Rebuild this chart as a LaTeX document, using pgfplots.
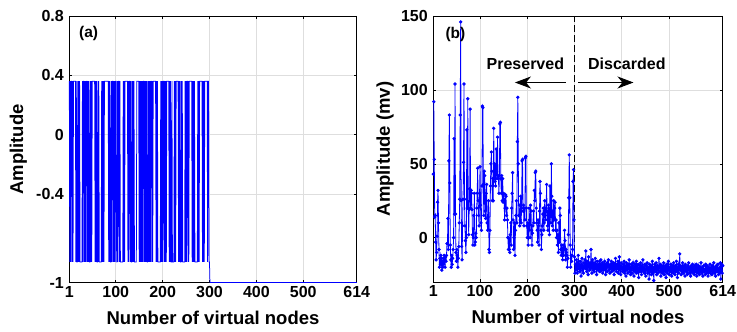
\documentclass[border=0pt]{standalone}
\usepackage{pgfplots}
\usepackage{pgfplotstable}
\pgfplotsset{compat=1.18}
\usepackage{fontspec}
\setmainfont{Liberation Sans}
\usetikzlibrary{arrows.meta}

\pgfplotstableread[row sep=\\]{
0.36\\-0.86\\0.36\\-0.86\\0.36\\0.36\\-0.86\\0.36\\-0.86\\0.36\\
0.36\\0.36\\0.36\\0.36\\-0.86\\0.36\\-0.86\\-0.86\\0.36\\-0.86\\
0.36\\-0.86\\0.36\\-0.86\\-0.86\\-0.86\\-0.86\\-0.86\\0.36\\-0.86\\
0.36\\0.36\\-0.86\\0.36\\-0.86\\0.36\\-0.86\\0.36\\0.36\\-0.86\\
0.36\\-0.86\\0.36\\-0.86\\-0.86\\0.36\\-0.86\\0.36\\-0.86\\0.36\\
0.36\\0.36\\0.36\\0.36\\0.36\\-0.86\\0.36\\-0.86\\0.36\\-0.86\\
-0.86\\0.36\\-0.86\\0.36\\-0.86\\-0.86\\-0.86\\-0.86\\-0.86\\0.36\\
-0.86\\0.36\\-0.86\\0.36\\-0.86\\0.36\\0.36\\0.36\\0.36\\0.36\\
0.36\\0.36\\0.36\\0.36\\-0.86\\0.36\\-0.86\\0.36\\-0.86\\-0.86\\
0.36\\-0.86\\0.36\\0.36\\-0.86\\0.36\\-0.86\\0.36\\-0.86\\0.36\\
0.36\\-0.86\\-0.86\\0.36\\-0.86\\0.36\\0.36\\-0.86\\0.36\\-0.86\\
-0.86\\-0.86\\-0.86\\-0.86\\-0.86\\0.36\\-0.86\\0.36\\-0.86\\0.36\\
0.36\\0.36\\0.36\\0.36\\0.36\\-0.86\\0.36\\-0.86\\0.36\\0.36\\
-0.86\\0.36\\-0.86\\-0.86\\0.36\\-0.86\\0.36\\-0.86\\0.36\\-0.86\\
-0.86\\-0.86\\-0.86\\-0.86\\0.36\\0.36\\0.36\\0.36\\0.36\\-0.86\\
0.36\\-0.86\\0.36\\-0.86\\0.36\\-0.86\\0.36\\-0.86\\0.36\\0.36\\
-0.86\\0.36\\-0.86\\0.36\\-0.86\\0.36\\-0.86\\-0.86\\0.36\\-0.86\\
0.36\\-0.86\\0.36\\-0.86\\0.36\\0.36\\-0.86\\0.36\\-0.86\\0.36\\
0.36\\0.36\\0.36\\0.36\\0.36\\-0.86\\0.36\\-0.86\\0.36\\-0.86\\
-0.86\\-0.86\\-0.86\\-0.86\\-0.86\\0.36\\-0.86\\0.36\\-0.86\\0.36\\
-0.86\\0.36\\0.36\\-0.86\\0.36\\-0.86\\0.36\\-0.86\\0.36\\0.36\\
0.36\\0.36\\0.36\\-0.86\\0.36\\-0.86\\0.36\\-0.86\\-0.86\\0.36\\
-0.86\\-0.86\\-0.86\\-0.86\\0.36\\-0.86\\0.36\\-0.86\\0.36\\0.36\\
0.36\\0.36\\0.36\\-0.86\\0.36\\-0.86\\0.36\\-0.86\\-0.86\\0.36\\
-0.86\\0.36\\-0.86\\-0.86\\-0.86\\-0.86\\-0.86\\0.36\\-0.86\\0.36\\
-0.86\\0.36\\0.36\\-0.86\\0.36\\-0.86\\0.36\\0.36\\0.36\\0.36\\
0.36\\0.36\\-0.86\\0.36\\-0.86\\0.36\\-0.86\\0.36\\-0.86\\-0.86\\
-0.86\\-0.86\\-0.86\\-0.86\\0.36\\-0.86\\0.36\\-0.86\\0.36\\0.36\\
0.36\\0.36\\0.36\\0.36\\-0.86\\0.36\\-0.86\\0.36\\-0.86\\0.36\\
0.36\\0.36\\0.36\\0.36\\0.36\\-0.86\\0.36\\0.36\\-0.86\\-0.86\\
-1\\
}\maskdata

\pgfplotstableread[row sep=\\]{
43\\92\\53\\14\\15\\-3\\-15\\-10\\1\\24\\
32\\10\\-8\\-20\\-14\\-18\\-12\\-14\\-22\\-16\\
-20\\-14\\-18\\-12\\-15\\-20\\-13\\-16\\-12\\-4\\
-4\\13\\-8\\52\\83\\37\\-5\\-15\\-20\\-12\\
-18\\-14\\-8\\0\\67\\16\\104\\16\\-10\\-16\\
-8\\-12\\-20\\-14\\-6\\10\\26\\83\\146\\25\\
-6\\-15\\8\\26\\51\\104\\26\\8\\-2\\-10\\
0\\73\\20\\94\\20\\2\\19\\33\\87\\20\\
32\\30\\19\\2\\-5\\0\\15\\30\\-5\\-3\\
3\\0\\20\\30\\47\\25\\15\\8\\30\\48\\
22\\10\\5\\35\\89\\88\\36\\15\\45\\42\\
18\\13\\30\\36\\10\\5\\14\\25\\-8\\-10\\
5\\35\\50\\58\\45\\25\\40\\25\\74\\40\\
50\\38\\35\\60\\45\\40\\68\\42\\40\\30\\
42\\77\\78\\40\\30\\42\\25\\40\\24\\30\\
26\\12\\20\\29\\28\\15\\20\\12\\0\\-8\\
0\\-8\\-10\\2\\10\\-5\\20\\30\\44\\12\\
-8\\0\\10\\-12\\5\\15\\25\\10\\65\\95\\
50\\15\\22\\8\\12\\28\\10\\20\\52\\53\\
18\\22\\8\\20\\12\\54\\55\\20\\8\\0\\
10\\-5\\5\\20\\12\\0\\22\\18\\5\\-5\\
3\\8\\18\\10\\32\\25\\44\\45\\20\\10\\
5\\-3\\12\\8\\-5\\18\\38\\30\\5\\-8\\
2\\8\\16\\20\\5\\10\\25\\15\\12\\20\\
36\\18\\8\\5\\22\\12\\2\\35\\20\\10\\
50\\28\\8\\18\\5\\25\\12\\20\\24\\5\\
12\\0\\5\\-5\\2\\-10\\10\\-3\\20\\15\\
-8\\-12\\-5\\-10\\-15\\-5\\-12\\-8\\5\\-2\\
-15\\-8\\-10\\-12\\-20\\-14\\2\\27\\56\\27\\
-5\\-20\\-12\\-16\\-12\\-8\\38\\46\\12\\-13\\
-24\\-18\\-22\\-15\\-20\\-24\\-17\\-12\\-21\\-19\\
-23\\-16\\-20\\-26\\-18\\-14\\-22\\-19\\-24\\-17\\
-20\\-15\\-21\\-9\\-18\\-23\\-16\\-20\\-25\\-13\\
-19\\-22\\-17\\-21\\-8\\-18\\-24\\-15\\-20\\-22\\
-17\\-23\\-19\\-14\\-21\\-18\\-25\\-16\\-20\\-22\\
-18\\-21\\-16\\-23\\-19\\-15\\-22\\-20\\-17\\-24\\
-19\\-22\\-18\\-16\\-21\\-25\\-18\\-20\\-23\\-17\\
-20\\-15\\-22\\-19\\-24\\-18\\-21\\-16\\-23\\-20\\
-18\\-22\\-17\\-25\\-19\\-21\\-14\\-20\\-23\\-18\\
-21\\-16\\-24\\-20\\-13\\-22\\-19\\-25\\-17\\-21\\
-20\\-23\\-18\\-22\\-16\\-24\\-19\\-21\\-26\\-17\\
-22\\-19\\-24\\-18\\-21\\-15\\-23\\-20\\-25\\-18\\
-21\\-24\\-19\\-17\\-22\\-26\\-20\\-18\\-23\\-21\\
-16\\-24\\-20\\-22\\-18\\-27\\-21\\-19\\-23\\-17\\
-22\\-25\\-19\\-21\\-15\\-23\\-20\\-24\\-18\\-22\\
-26\\-19\\-21\\-17\\-24\\-22\\-20\\-28\\-18\\-23\\
-21\\-19\\-25\\-22\\-16\\-24\\-20\\-29\\-21\\-18\\
-23\\-20\\-17\\-25\\-21\\-19\\-24\\-22\\-14\\-20\\
-23\\-18\\-26\\-21\\-19\\-24\\-20\\-22\\-17\\-25\\
-21\\-19\\-23\\-27\\-20\\-18\\-24\\-21\\-16\\-22\\
-25\\-20\\-23\\-18\\-22\\-26\\-19\\-21\\-24\\-17\\
-22\\-20\\-25\\-19\\-23\\-16\\-21\\-27\\-20\\-18\\
-24\\-21\\-11\\-22\\-19\\-25\\-20\\-23\\-17\\-21\\
-24\\-19\\-22\\-26\\-18\\-21\\-23\\-20\\-25\\-19\\
-22\\-17\\-24\\-21\\-20\\-26\\-19\\-23\\-21\\-18\\
-24\\-20\\-22\\-25\\-19\\-21\\-23\\-18\\-26\\-20\\
-22\\-24\\-19\\-21\\-25\\-20\\-23\\-17\\-22\\-24\\
-20\\-26\\-21\\-19\\-23\\-22\\-25\\-18\\-21\\-24\\
-19\\-22\\-26\\-20\\-23\\-21\\-18\\-24\\-22\\-20\\
-25\\-19\\-23\\-21\\-17\\-24\\-22\\-20\\-26\\-21\\
-19\\-23\\-22\\-18\\-25\\-21\\-24\\-20\\-17\\-28\\
-22\\-18\\-24\\-19\\
}\respdata

\pgfplotsset{
  myax/.style={
    scale only axis, anchor=south west,
    xmin=1, xmax=614,
    xtick={1,100,200,300,400,500,614},
    xticklabels={1,100,200,300,400,500,614},
    grid=major, grid style={line width=0.5pt, black!13},
    tick align=inside, major tick length=3pt,
    tick style={black, line width=0.5pt},
    axis line style={line width=0.6pt},
    ticklabel style={font=\fontsize{16}{16}\selectfont\bfseries},
    yticklabel style={xshift=-2pt},
    label style={font=\fontsize{18.5}{18.5}\selectfont\bfseries},
    xlabel={Number of virtual nodes},
    xlabel style={at={(axis description cs:0.5,-0.132)}, anchor=center},
  }
}

\begin{document}
\begin{tikzpicture}
\path[use as bounding box] (0pt,0pt) rectangle (737pt,332pt);

\begin{axis}[myax, at={(69.3pt,49.3pt)}, width=287.4pt, height=266.7pt,
  ymin=-1, ymax=0.8,
  ytick={-1,-0.4,0,0.4,0.8},
  yticklabels={-1,-0.4,0,0.4,0.8},
  ylabel={Amplitude},
  ylabel style={at={(axis description cs:-0.177,0.5)}, anchor=center},
  clip=false]
\addplot[blue, line width=0.75pt, mark=none] table[x expr=\coordindex+1, y index=0] {\maskdata};
\addplot[blue, line width=0.8pt, mark=none] coordinates {(301,-1) (614,-1)};
\node[anchor=west, font=\fontsize{15.5}{15.5}\selectfont\bfseries] at (axis description cs:0.022,0.936) {(a)};
\end{axis}

\begin{axis}[myax, at={(433.3pt,50pt)}, width=289.4pt, height=266pt,
  ymin=-30, ymax=150,
  ytick={0,50,100,150},
  yticklabels={0,50,100,150},
  ylabel={Amplitude (mv)},
  ylabel style={at={(axis description cs:-0.167,0.5)}, anchor=center}]
\addplot[black, line width=0.7pt, dash pattern=on 7pt off 3pt, mark=none] coordinates {(300,-30) (300,150)};
\addplot[blue, line width=0.8pt, mark=*, mark size=1.25pt, mark options={solid, fill=blue}] table[x expr=\coordindex+1, y index=0] {\respdata};
\draw[-{Stealth[length=16pt,width=12pt,inset=5pt]}, line width=0.8pt] (axis cs:282,105) -- (axis cs:174,105);
\draw[-{Stealth[length=16pt,width=12pt,inset=5pt]}, line width=0.8pt] (axis cs:308,105) -- (axis cs:425,105);
\node[font=\fontsize{16}{16}\selectfont\bfseries] at (axis cs:196,118) {Preserved};
\node[font=\fontsize{16}{16}\selectfont\bfseries] at (axis cs:411,118) {Discarded};
\node[anchor=west, font=\fontsize{15.5}{15.5}\selectfont\bfseries] at (axis description cs:0.03,0.929) {(b)};
\end{axis}
\end{tikzpicture}
\end{document}
